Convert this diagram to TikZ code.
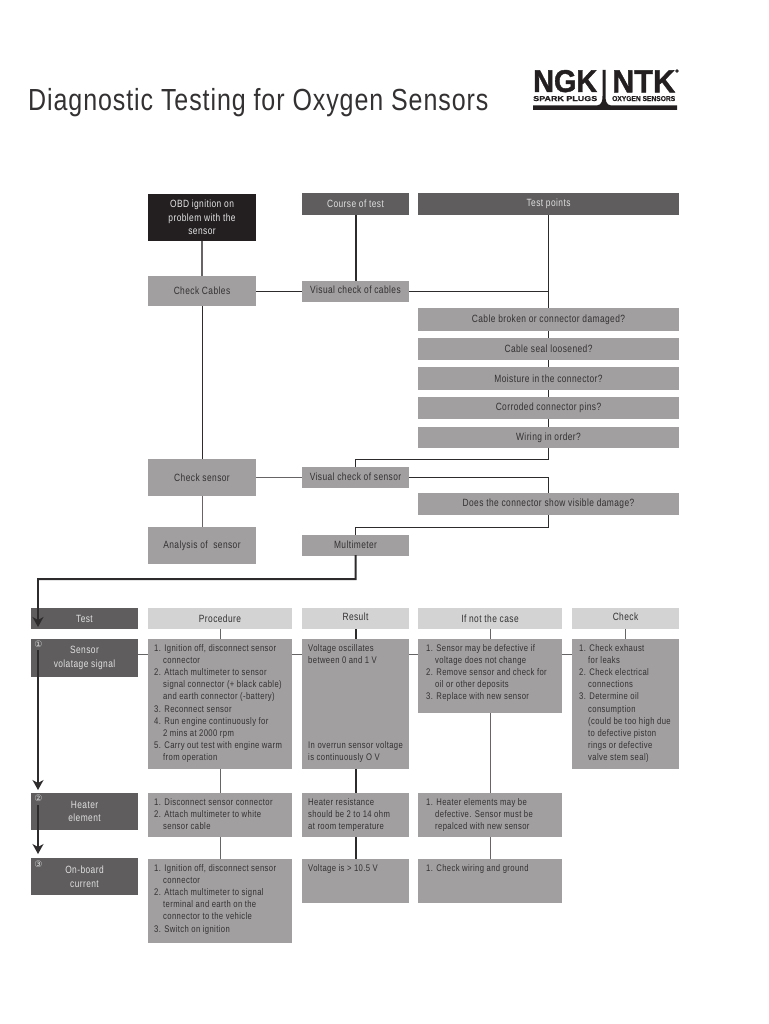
\documentclass[tikz,border=0pt]{standalone}
\usepackage{graphicx}
\usepackage{fontspec}
\setmainfont{Liberation Sans}[FakeStretch=0.8,LetterSpace=4]
\newfontfamily\titlefont{Liberation Sans}[FakeStretch=0.82,LetterSpace=3]
\newfontfamily\logofont{Liberation Sans Bold}[FakeStretch=1.1,FakeBold=1.5]
\newfontfamily\logosmall{Liberation Sans Bold}[FakeBold=0.5]
\newfontfamily\circfont{DejaVu Sans}
\usetikzlibrary{arrows.meta,calc}
\definecolor{boxgray}{HTML}{A19FA0}
\definecolor{darkbox}{HTML}{5F5D5E}
\definecolor{blackbox}{HTML}{231F20}
\definecolor{lightbox}{HTML}{D3D3D3}
\definecolor{boxtext}{HTML}{333132}
\definecolor{linegray}{HTML}{666465}
\definecolor{linedark}{HTML}{2E2B2C}
\tikzset{
  bx/.style={draw=none,inner sep=0pt,align=center,font=\fontsize{10.5}{13.6}\selectfont},
  graybox/.style={bx,fill=boxgray,text=boxtext},
  darkb/.style={bx,fill=darkbox,text=white!88!black},
  blackb/.style={bx,fill=blackbox,text=white!90!black},
  lightb/.style={bx,fill=lightbox,text=boxtext},
  listtext/.style={anchor=north west,inner sep=0pt,align=left,text=boxtext,font=\fontsize{9.6}{12.2}\selectfont},
  circnum/.style={inner sep=0pt,text=white!85!black,font=\circfont\fontsize{9}{9}\selectfont},
  thinl/.style={draw=linegray,line width=1pt},
  darkl/.style={draw=linedark,line width=1pt},
  thickl/.style={draw=linedark,line width=2pt},
  arrowl/.style={draw=linedark,line width=1.1pt,-{Stealth[length=10pt,width=11pt,inset=3pt]}},
  logoblk/.style={fill=blackbox,draw=none},
}
\newcommand{\bxn}[7][]{\node[#2,minimum width={(#5-#3)*1pt},minimum height={(#6-#4)*1pt},#1] (#7) at ({(#3+#5)/2},{(#4+#6)/2})}
\newcommand{\hng}{\hspace*{9pt}}
\begin{document}
\begin{tikzpicture}[x=1pt,y=-1pt]
\useasboundingbox (0,0) rectangle (768,1024);
\fill[white] (0,0) rectangle (768,1024);

% title
\node[anchor=base west,inner sep=0pt,text=boxtext,font=\titlefont\fontsize{30.5}{31}\selectfont] (title) at (28,110.5) {Diagnostic Testing for Oxygen Sensors};

% logo
\node[anchor=south west,inner sep=0pt,text=blackbox] (ngk) at (533,92.5) {\resizebox{64pt}{22pt}{\logofont NGK}};
\node[anchor=south west,inner sep=0pt,text=blackbox] (ntk) at (612,92.5) {\resizebox{63pt}{22pt}{\logofont NTK}};
\node[anchor=south west,inner sep=0pt,text=blackbox] (spark) at (533,101.3) {\resizebox{64pt}{5pt}{\logosmall SPARK PLUGS}};
\node[anchor=south west,inner sep=0pt,text=blackbox] (oxy) at (612,101.3) {\resizebox{63pt}{5pt}{\logosmall OXYGEN SENSORS}};
\node[inner sep=0pt,text=blackbox,font=\logosmall\fontsize{4}{4}\selectfont] (reg) at (677,71) {®};
\fill[logoblk] (533,105.5) -- (597,105.5) .. controls (602,105) and (602.5,100) .. (602.5,96) -- (602.5,70) -- (605.5,70) -- (605.5,96) .. controls (605.5,100) and (606,105) .. (611,105.5) -- (677,105.5) -- (677,110) -- (533,110) -- cycle;

% top section
\bxn{blackb}{148}{194}{256}{241}{obd} {OBD ignition on\\problem with the\\sensor};
\bxn{darkb}{302}{193}{409}{215}{course} {\raisebox{-3pt}{Course of test}};
\bxn{darkb}{418}{193}{679}{215}{points} {\raisebox{-2pt}{Test points}};
\bxn{graybox}{148}{276}{256}{306}{cables} {\raisebox{1.5pt}{Check Cables}};
\bxn{graybox}{302}{281}{409}{302}{vcables} {\raisebox{3pt}{Visual check of cables}};
\bxn{graybox}{418}{308}{679}{331}{q1} {\raisebox{-2pt}{Cable broken or connector damaged?}};
\bxn{graybox}{418}{338}{679}{360}{q2} {Cable seal loosened?};
\bxn{graybox}{418}{367}{679}{390}{q3} {Moisture in the connector?};
\bxn{graybox}{418}{397}{679}{419}{q4} {Corroded connector pins?};
\bxn{graybox}{418}{427}{679}{448}{q5} {Wiring in order?};
\bxn{graybox}{148}{459}{256}{496}{csensor} {Check sensor};
\bxn{graybox}{302}{467}{409}{488}{vsensor} {\raisebox{1pt}{Visual check of sensor}};
\bxn{graybox}{418}{493}{679}{515}{q6} {Does the connector show visible damage?};
\bxn{graybox}{148}{527}{256}{564}{analysis} {Analysis of\ \ sensor};
\bxn{graybox}{302}{535}{409}{556}{multi} {\raisebox{1pt}{Multimeter}};

% table headers
\bxn{darkb}{31}{608}{138}{629}{test} {Test};
\bxn{lightb}{148}{608}{292}{629}{hproc} {Procedure};
\bxn{lightb}{302}{608}{409}{629}{hres} {\raisebox{3pt}{Result}};
\bxn{lightb}{418}{608}{562}{629}{hnot} {If not the case};
\bxn{lightb}{572}{608}{679}{629}{hcheck} {\raisebox{3pt}{Check}};

% row 1
\bxn{darkb}{31}{639}{138}{677}{sens} {Sensor\\volatage signal};
\bxn{graybox}{148}{639}{292}{769}{p1} {};
\bxn{graybox}{302}{639}{409}{769}{r1} {};
\bxn{graybox}{418}{639}{562}{713}{n1} {};
\bxn{graybox}{572}{639}{679}{769}{c1} {};
% row 2
\bxn{darkb}{31}{793}{138}{830}{heat} {Heater\\element};
\bxn{graybox}{148}{793}{292}{837}{p2} {};
\bxn{graybox}{302}{793}{409}{837}{r2} {};
\bxn{graybox}{418}{793}{562}{837}{n2} {};
% row 3
\bxn{darkb}{31}{858}{138}{895}{onb} {On-board\\current};
\bxn{graybox}{148}{859}{292}{943}{p3} {};
\bxn{graybox}{302}{859}{409}{903}{r3} {};
\bxn{graybox}{418}{859}{562}{903}{n3} {};

% list texts
\node[listtext] (p1t) at (154,644) {1. Ignition off, disconnect sensor\\\hng connector\\2. Attach multimeter to sensor\\\hng signal connector (+ black cable)\\\hng and earth connector (-battery)\\3. Reconnect sensor\\4. Run engine continuously for\\\hng 2 mins at 2000 rpm\\5. Carry out test with engine warm\\\hng from operation};
\node[listtext] (r1t) at (308,644) {Voltage oscillates\\between 0 and 1 V};
\node[listtext] (r1u) at (308,741) {In overrun sensor voltage\\is continuously O V};
\node[listtext] (n1t) at (426,644) {1. Sensor may be defective if\\\hng voltage does not change\\2. Remove sensor and check for\\\hng oil or other deposits\\3. Replace with new sensor};
\node[listtext] (c1t) at (579,644) {1. Check exhaust\\\hng for leaks\\2. Check electrical\\\hng connections\\3. Determine oil\\\hng consumption\\\hng (could be too high due\\\hng to defective piston\\\hng rings or defective\\\hng valve stem seal)};
\node[listtext] (p2t) at (154,798) {1. Disconnect sensor connector\\2. Attach multimeter to white\\\hng sensor cable};
\node[listtext] (r2t) at (308,798) {Heater resistance\\should be 2 to 14 ohm\\at room temperature};
\node[listtext] (n2t) at (426,798) {1. Heater elements may be\\\hng defective. Sensor must be\\\hng repalced with new sensor};
\node[listtext] (p3t) at (154,864) {1. Ignition off, disconnect sensor\\\hng connector\\2. Attach multimeter to signal\\\hng terminal and earth on the\\\hng connector to the vehicle\\3. Switch on ignition};
\node[listtext] (r3t) at (308,864) {Voltage is > 10.5 V};
\node[listtext] (n3t) at (426,864) {1. Check wiring and ground};

% circled numbers
\node[circnum] (c-one) at (38.5,644) {①};
\node[circnum] (c-two) at (38.5,798.5) {②};
\node[circnum] (c-three) at (38.5,864.5) {③};

% connectors: top
\draw[thinl,line width=1.3pt] (obd.south) -- (cables.north);
\draw[darkl] (cables.south) -- (csensor.north);
\draw[thinl] (csensor.south) -- (analysis.north);
\draw[thickl] (course.south) -- (vcables.north);
\draw[darkl] (cables.east |- vcables.east) -- (vcables.west);
\draw[thinl] (csensor.east |- vsensor.east) -- (vsensor.west);
\coordinate (jc) at (points.south |- vcables.east);
\draw[darkl] (vcables.east) -- (jc);
\draw[darkl] (points.south) -- (q1.north);
\draw[darkl] (q1.south) -- (q2.north);
\draw[darkl] (q2.south) -- (q3.north);
\draw[darkl] (q3.south) -- (q4.north);
\draw[darkl] (q4.south) -- (q5.north);
\coordinate (tw) at ($(q5.south)+(0,11)$);
\draw[darkl] (q5.south) -- (tw) -| (vsensor.north);
\draw[darkl] (vsensor.east) -| (q6.north);
\coordinate (td) at ($(q6.south)+(0,12)$);
\draw[darkl] (q6.south) -- (td) -| (multi.north);
\coordinate (tm) at ($(multi.south)+(0,23)$);
\coordinate (ta) at (38,579);
\coordinate (tb) at (38,627);
\draw[thickl,line cap=rect] (multi.south) -- (tm) -- (ta);
\draw[arrowl] (ta) -- (tb);

% test arrows
\coordinate (a1s) at (38,650);
\coordinate (a1e) at (38,790);
\coordinate (a2s) at (38,805);
\coordinate (a2e) at (38,854);
\draw[arrowl] (a1s) -- (a1e);
\draw[arrowl] (a2s) -- (a2e);

% table connectors
\draw[thinl] (hproc.south) -- (p1.north);
\draw[thinl] (p1.south) -- (p2.north);
\draw[thinl] (p2.south) -- (p3.north);
\draw[thickl] (hres.south) -- (r1.north);
\draw[thickl] (r1.south) -- (r2.north);
\draw[thickl] (r2.south) -- (r3.north);
\draw[thinl] (hnot.south) -- (n1.north);
\draw[thinl] (n1.south) -- (n2.north);
\draw[thinl] (n2.south) -- (n3.north);
\draw[thinl] (hcheck.south) -- (c1.north);
\draw[thinl] ([yshift=-16pt]sens.north east) -- ([yshift=-16pt]p1.north west);
\draw[thinl] ([yshift=-16pt]p1.north east) -- ([yshift=-16pt]r1.north west);
\draw[thinl] ([yshift=-16pt]r1.north east) -- ([yshift=-16pt]n1.north west);
\draw[thinl] ([yshift=-16pt]n1.north east) -- ([yshift=-16pt]c1.north west);
\end{tikzpicture}
\end{document}
